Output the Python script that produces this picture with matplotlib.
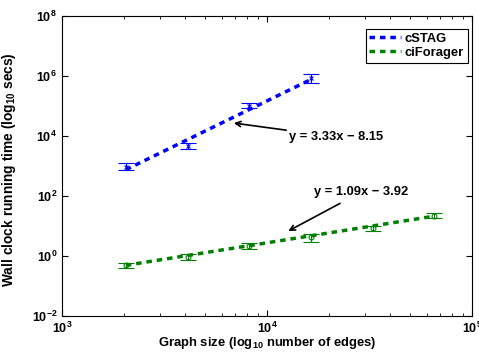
import numpy as np
import matplotlib
matplotlib.use("Agg")
import matplotlib.pyplot as plt
from matplotlib.lines import Line2D
from matplotlib.ticker import FixedLocator, FixedFormatter, LogLocator, NullLocator, NullFormatter

plt.rcParams['font.family'] = ['Liberation Sans', 'DejaVu Sans']
plt.rcParams['font.weight'] = 'bold'
plt.rcParams['mathtext.fontset'] = 'custom'
plt.rcParams['mathtext.bf'] = 'Liberation Sans:bold'
plt.rcParams['mathtext.rm'] = 'Liberation Sans:bold'

# data
stag_edges = [2048, 4096, 8192, 16384]
stag_time = [926, 4640, 1.0e5, 8.6e5]
stag_lo = [735, 3690, 8.6e4, 5.9e5]
stag_hi = [1260, 5850, 1.26e5, 1.17e6]
stag_fit = (3.33, -8.15)

fora_edges = [2048, 4096, 8192, 16384, 32768, 65536]
fora_time = [0.5, 0.93, 2.15, 4.3, 8.6, 21.5]
fora_lo = [0.40, 0.74, 1.7, 2.9, 6.8, 18.5]
fora_hi = [0.59, 1.17, 2.7, 5.4, 10.0, 27.0]
fora_fit = (1.09, -3.92)

series_names = ['cSTAG', 'ciForager']
fit_labels = ['y = 3.33x \u2212 8.15', 'y = 1.09x \u2212 3.92']
ytick_vals = [1e-2, 1e0, 1e2, 1e4, 1e6, 1e8]
ytick_labels = [r'$\mathbf{10^{-2}}$', r'$\mathbf{10^{0}}$', r'$\mathbf{10^{2}}$',
                r'$\mathbf{10^{4}}$', r'$\mathbf{10^{6}}$', r'$\mathbf{10^{8}}$']
xtick_vals = [1e3, 1e4, 1e5]
xtick_labels = [r'$\mathbf{10^{3}}$', r'$\mathbf{10^{4}}$', r'$\mathbf{10^{5}}$']

fig = plt.figure(figsize=(4.79, 3.53), dpi=100, facecolor='white')
ax = fig.add_axes([62 / 479, 1 - 316 / 353, 410 / 479, 300 / 353])

blue = (0, 0, 1)
green = (0, 0.5, 0)
dash = (0, (1.6, 1.4))

def draw(edges, t, lo, hi, fit, col, mk):
    edges = np.array(edges, float)
    t = np.array(t)
    err = [t - np.array(lo), np.array(hi) - t]
    ax.errorbar(edges, t, yerr=err, fmt=mk, color=col, ms=3.5, mfc='none',
                mew=0.8, elinewidth=0.8, capsize=6, capthick=0.8, zorder=2)
    fy = 10 ** (fit[0] * np.log10(edges) + fit[1])
    ax.plot(edges, fy, color=col, lw=2.5, ls=dash, zorder=3)

draw(stag_edges, stag_time, stag_lo, stag_hi, stag_fit, blue, 'x')
draw(fora_edges, fora_time, fora_lo, fora_hi, fora_fit, green, 'o')

ax.set_xscale('log')
ax.set_yscale('log')
ax.set_xlim(1e3, 1e5)
ax.set_ylim(1e-2, 1e8)

ax.yaxis.set_major_locator(FixedLocator(ytick_vals))
ax.yaxis.set_major_formatter(FixedFormatter(ytick_labels))
ax.yaxis.set_minor_locator(NullLocator())
ax.xaxis.set_major_locator(FixedLocator(xtick_vals))
ax.xaxis.set_major_formatter(FixedFormatter(xtick_labels))
ax.xaxis.set_minor_locator(LogLocator(base=10, subs=np.arange(2, 10)))
ax.xaxis.set_minor_formatter(NullFormatter())

ax.tick_params(which='both', direction='in', top=True, right=True, labelsize=9)
ax.tick_params(which='major', length=4)
ax.tick_params(which='minor', length=2.5)
for s in ax.spines.values():
    s.set_linewidth(0.8)

ax.set_xlabel(r'Graph size (log$_{\mathbf{10}}$ number of edges)', fontsize=9.4, fontweight='bold', labelpad=-1)
ax.set_ylabel(r'Wall clock running time (log$_{\mathbf{10}}$ secs)', fontsize=9.9, fontweight='bold')
ax.yaxis.set_label_coords(-0.107, 0.487)

ax.annotate(fit_labels[0], xy=(6890, 2.7e4), xytext=(12800, 9.3e3),
            fontsize=9.3, fontweight='bold', ha='left', va='center',
            arrowprops=dict(arrowstyle='->', color='black', lw=1.2, shrinkA=0, shrinkB=0))
ax.annotate(fit_labels[1], xy=(12700, 6.8), xytext=(17000, 136),
            fontsize=9.3, fontweight='bold', ha='left', va='center',
            arrowprops=dict(arrowstyle='->', color='black', lw=1.2, shrinkA=4, shrinkB=0))

handles = [Line2D([], [], color=blue, lw=2.5, ls=dash),
           Line2D([], [], color=green, lw=2.5, ls=dash)]
leg = ax.legend(handles, series_names, loc='upper right', bbox_to_anchor=(0.99, 0.957),
                borderaxespad=0, fancybox=False, edgecolor='black', framealpha=1,
                prop={'size': 9.4, 'weight': 'bold'}, handlelength=2.4, handletextpad=0.3,
                labelspacing=0.15, borderpad=0.3)
leg.get_frame().set_linewidth(0.8)

fig.savefig('out.png', dpi=100)
